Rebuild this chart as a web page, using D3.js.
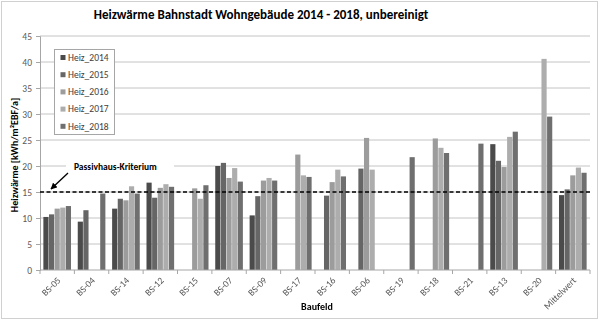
<!DOCTYPE html>
<html><head><meta charset="utf-8">
<script src="https://cdn.jsdelivr.net/npm/d3@7"></script>
<style>body{margin:0;background:#fff}svg{display:block}text{font-family:Carlito,Lato,"Open Sans",sans-serif}.gs{opacity:0.995}</style>
</head><body><svg id="c" width="600" height="322"></svg>
<script>
const categories = ["BS-05","BS-04","BS-14","BS-12","BS-15","BS-07","BS-09","BS-17","BS-16","BS-06","BS-19","BS-18","BS-21","BS-13","BS-20","Mittelwert"];
const seriesNames = ["Heiz_2014","Heiz_2015","Heiz_2016","Heiz_2017","Heiz_2018"];
const heiz2014 = [10.2, 9.3, 11.8, 16.8, null, 20.0, 10.5, null, null, null, null, null, null, 24.2, null, 14.4];
const heiz2015 = [10.7, 11.5, 13.7, 13.9, null, 20.6, 14.2, null, 14.3, 19.5, null, null, null, 21.0, null, 15.5];
const heiz2016 = [11.8, null, 13.4, 15.8, 15.7, 17.7, 17.2, 22.2, 16.9, 25.4, null, 25.3, null, 19.8, null, 18.2];
const heiz2017 = [12.0, null, 16.1, 16.5, 13.7, 19.6, 17.7, 18.2, 19.3, 19.3, null, 23.5, null, 25.6, 40.6, 19.7];
const heiz2018 = [12.3, 14.7, 14.7, 16.0, 16.3, 17.0, 17.2, 17.9, 18.0, null, 21.7, 22.5, 24.3, 26.6, 29.5, 18.7];
const yTicks = [0,5,10,15,20,25,30,35,40,45];
const colors = ["#4b4b4b","#666666","#9c9c9c","#adadad","#6f6f6f"];
const threshold = 15;

const values = [heiz2014, heiz2015, heiz2016, heiz2017, heiz2018];
const svg = d3.select("#c");
const L=40, R=590, T=36, B=270;

svg.append("rect").attr("x",1.5).attr("y",1.5).attr("width",596).attr("height",317)
  .attr("fill","#fff").attr("stroke","#d0d0d0");

const x = d3.scaleBand().domain(categories).range([L,R]).paddingInner(0.17).paddingOuter(0.085);
const xb = d3.scaleBand().domain(categories).range([L,R]);
const xs = d3.scaleBand().domain(seriesNames).range([0,x.bandwidth()]).padding(0.08);
const y = d3.scaleLinear().domain([0,45]).range([B,T]);

// gridlines
svg.append("g").selectAll("line").data(yTicks.filter(d=>d>0)).join("line")
  .attr("x1",L).attr("x2",R).attr("y1",d=>y(d)).attr("y2",d=>y(d))
  .attr("stroke","#c4c4c4").attr("stroke-width",1);

// y axis
const ya = svg.append("g").attr("class","gs").attr("transform",`translate(${L},0)`)
  .call(d3.axisLeft(y).tickValues(yTicks).tickSize(4).tickPadding(4));
ya.select(".domain").attr("stroke","#a6a6a6");
ya.selectAll(".tick line").attr("stroke","#a6a6a6");
ya.selectAll("text").attr("font-size",9.5).attr("fill","#595959");

// bars
const g = svg.append("g");
seriesNames.forEach((s,i)=>{
  g.append("g").selectAll("rect").data(categories.map((c,j)=>({c,v:values[i][j]})).filter(d=>d.v!=null)).join("rect")
    .attr("x",d=>x(d.c)+xs(s)).attr("width",xs.bandwidth())
    .attr("y",d=>y(d.v)).attr("height",d=>y(0)-y(d.v))
    .attr("fill",colors[i]);
});

// x axis
const xa = svg.append("g").attr("class","gs").attr("transform",`translate(0,${B})`);
xa.append("line").attr("x1",L).attr("x2",R).attr("stroke","#a6a6a6");
xa.selectAll(".tk").data(categories.concat(["_end"])).join("line")
  .attr("x1",(d,i)=>L+i*xb.step()).attr("x2",(d,i)=>L+i*xb.step()).attr("y1",0).attr("y2",4).attr("stroke","#a6a6a6");
xa.selectAll("text").data(categories).join("text")
  .attr("transform",d=>`translate(${xb(d)+xb.bandwidth()/2+4},${11}) rotate(-45)`)
  .attr("text-anchor","end").attr("font-size",9.5).attr("fill","#595959").text(d=>d);

// threshold dashed line
svg.append("line").attr("x1",L).attr("x2",R).attr("y1",y(threshold)).attr("y2",y(threshold))
  .attr("stroke","#000").attr("stroke-width",1.5).attr("stroke-dasharray","4,2.5");

// annotation
const annY = y(20);
svg.append("rect").attr("x",66).attr("y",annY-6).attr("width",108).attr("height",12).attr("fill","#fff");
svg.append("text").attr("x",74).attr("y",annY+3.5).attr("font-size",9.5).attr("font-weight","bold").attr("fill","#000").text("Passivhaus-Kriterium");
svg.append("defs").append("marker").attr("id","ah").attr("viewBox","0 0 10 10").attr("refX",9).attr("refY",5)
  .attr("markerWidth",5).attr("markerHeight",5).attr("orient","auto")
  .append("path").attr("d","M0,0L10,5L0,10z").attr("fill","#000");
svg.append("line").attr("x1",68).attr("y1",annY+7).attr("x2",51).attr("y2",y(threshold)-3)
  .attr("stroke","#000").attr("stroke-width",1.3).attr("marker-end","url(#ah)");

// legend
const lg = svg.append("g").attr("class","gs");
lg.append("rect").attr("x",54.5).attr("y",49.5).attr("width",60).attr("height",85).attr("fill","#fff").attr("stroke","#a6a6a6");
seriesNames.forEach((s,i)=>{
  const cy = 57.5 + i*17.2;
  lg.append("rect").attr("x",60.5).attr("y",cy-2.5).attr("width",5).attr("height",5).attr("fill",colors[i]);
  lg.append("text").attr("x",68).attr("y",cy+3.3).attr("font-size",9.5).attr("fill","#404040").text(s);
});

// titles
svg.append("text").attr("x",261).attr("y",19).attr("text-anchor","middle").attr("font-size",13).attr("font-weight","bold").attr("fill","#000")
  .text("Heizwärme Bahnstadt Wohngebäude 2014 - 2018, unbereinigt");
svg.append("text").attr("transform",`translate(18,${(T+B)/2+2}) rotate(-90)`).attr("text-anchor","middle")
  .attr("font-size",10).attr("font-weight","bold").attr("fill","#000").text("Heizwärme [kWh/m²EBF/a]");
svg.append("text").attr("x",317).attr("y",310).attr("text-anchor","middle").attr("font-size",10).attr("font-weight","bold").attr("fill","#000").text("Baufeld");
</script></body></html>
